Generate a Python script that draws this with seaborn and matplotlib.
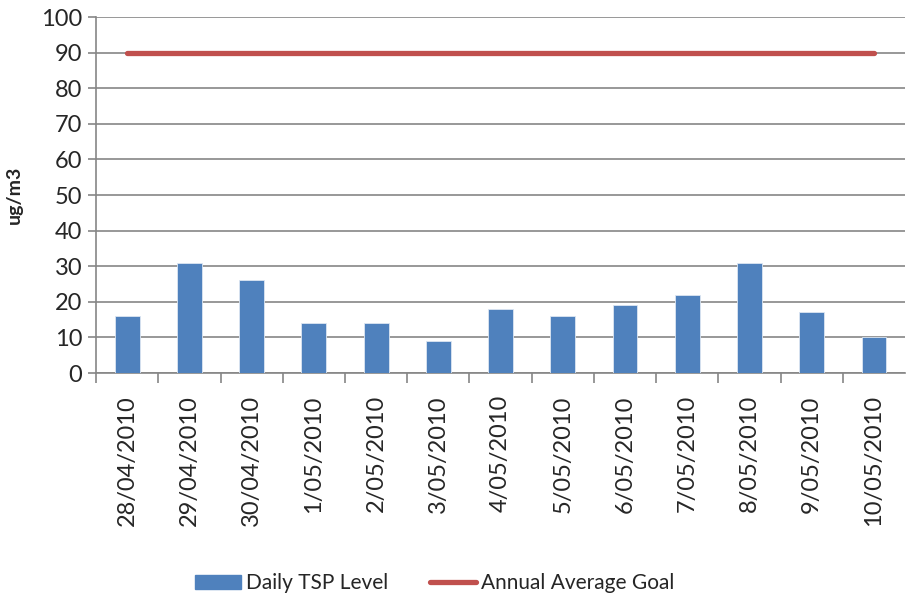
import numpy as np
import matplotlib
matplotlib.use("Agg")
import matplotlib.pyplot as plt
import seaborn as sns
from matplotlib.patches import Patch
from matplotlib.lines import Line2D

# Data
dates = ["28/04/2010", "29/04/2010", "30/04/2010", "1/05/2010", "2/05/2010",
         "3/05/2010", "4/05/2010", "5/05/2010", "6/05/2010", "7/05/2010",
         "8/05/2010", "9/05/2010", "10/05/2010"]
tsp_level = [16, 31, 26, 14, 14, 9, 18, 16, 19, 22, 31, 17, 10]
annual_goal = [90] * len(dates)

bar_color = "#4F81BD"
line_color = "#C0504D"
grid_color = "#868686"

sns.set_style("white")
plt.rcParams["font.family"] = ["Lato", "DejaVu Sans"]

fig = plt.figure(figsize=(9.06, 6.03), dpi=100)
ax = fig.add_axes([0.106, 0.3814, 0.893, 0.5904])

sns.barplot(x=dates, y=tsp_level, color=bar_color, width=0.4,
            saturation=1, ax=ax, zorder=3, edgecolor="#dce6f2", linewidth=0.6)
sns.lineplot(x=np.arange(len(dates)), y=annual_goal, color=line_color,
             linewidth=3.8, ax=ax, zorder=4, solid_capstyle="round")

ax.set_xlim(-0.5, len(dates) - 0.5)
ax.set_ylim(0, 100)
ax.set_yticks(np.arange(0, 101, 10))
ax.yaxis.grid(True, color=grid_color, linewidth=1.2, zorder=0)
ax.set_axisbelow(True)

for side in ["top", "right"]:
    ax.spines[side].set_visible(False)
for side in ["left", "bottom"]:
    ax.spines[side].set_color(grid_color)
    ax.spines[side].set_linewidth(1.2)

ax.tick_params(axis="y", length=6, color=grid_color, width=1.2,
               labelsize=17, pad=4, left=True)
ax.set_xticks(np.arange(len(dates)))
ax.set_xticklabels(dates, rotation=90, fontsize=17)
ax.tick_params(axis="x", which="major", length=0, pad=16)
ax.set_xticks(np.arange(len(dates)) - 0.5, minor=True)
ax.tick_params(axis="x", which="minor", length=7, color=grid_color,
               width=1.2, bottom=True)

ax.set_xlabel("")
ax.set_ylabel("ug/m3", fontsize=14, fontweight="bold")
ax.yaxis.set_label_coords(-0.09, 0.5)

handles = [Patch(color=bar_color, label="Daily TSP Level"),
           Line2D([0], [0], color=line_color, linewidth=3.8,
                  label="Annual Average Goal")]
fig.legend(handles=handles, loc="center", bbox_to_anchor=(0.48, 0.033),
           ncol=2, frameon=False, fontsize=15, handlelength=2.2,
           columnspacing=2.0, handletextpad=0.25)

fig.savefig("out.png", dpi=100)
